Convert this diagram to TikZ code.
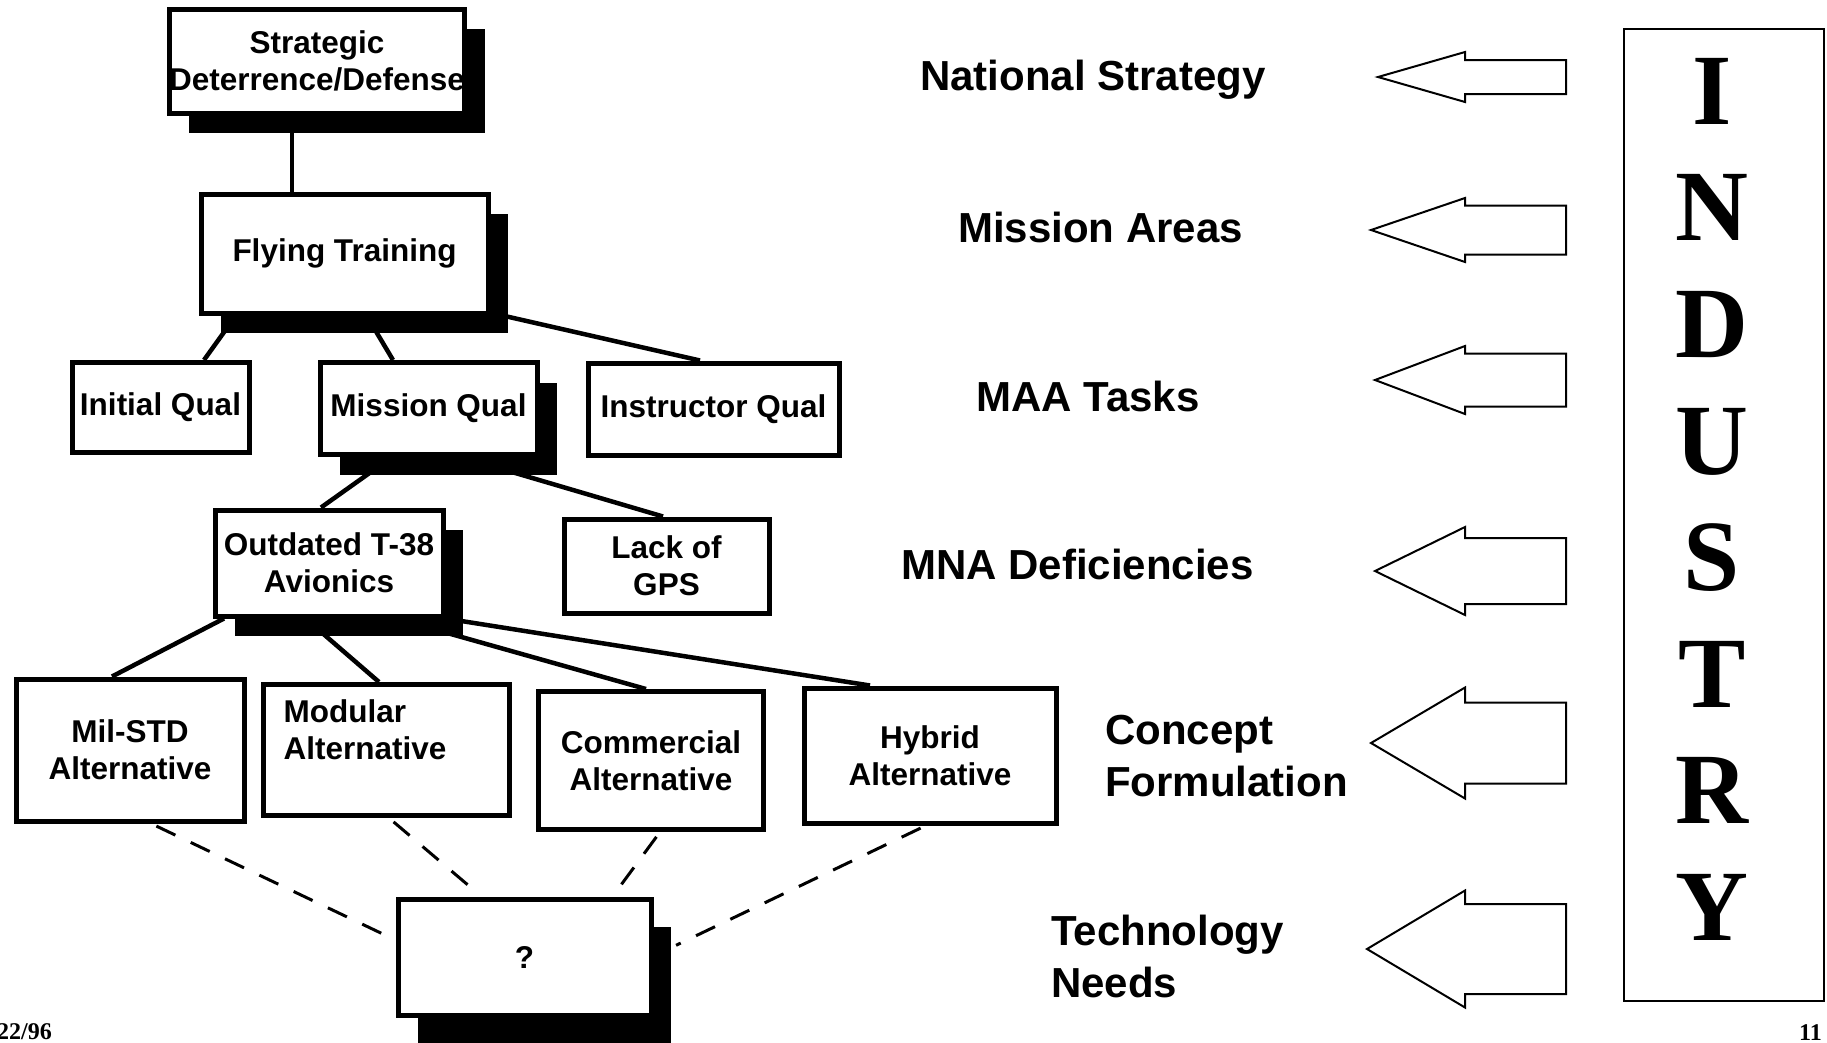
\documentclass[tikz,border=0pt]{standalone}
\usepackage{fontspec}
\setmainfont{Liberation Sans}
\newfontfamily\serifrm{Liberation Serif}
\usetikzlibrary{positioning,shadows}

\newcommand{\boxfont}{\fontsize{31.5}{37}\selectfont\bfseries}
% block arrow pointing left: tip x, mid y, head half-height, shaft half-height
\newcommand{\pusharrow}[4]{%
  \draw[barrow] (#1,#2) -- (1465,#2-#3) -- (1465,#2-#4) -- (1566,#2-#4)
    -- (1566,#2+#4) -- (1465,#2+#4) -- (1465,#2+#3) -- cycle;}

\begin{document}
\begin{tikzpicture}[x=1pt, y=-1pt,
  box/.style={draw, line width=5pt, fill=white, align=center, inner sep=0pt,
              font=\boxfont},
  dropped/.style={drop shadow={shadow xshift=20pt, shadow yshift=#1,
              fill=black, opacity=1}},
  dropped/.default=-20pt,
  conn/.style={line width=4.5pt},
  dlink/.style={line width=3pt, dash pattern=on 21pt off 17pt,
              shorten <=6pt, shorten >=4pt},
  lev/.style={font=\fontsize{42}{52}\selectfont\bfseries, inner sep=0pt,
              align=left},
  barrow/.style={draw, line width=2pt, line join=miter},
  foot/.style={font=\serifrm\bfseries\fontsize{24}{28}\selectfont,
              inner sep=0pt}]
\fill[white] (0,0) rectangle (1827,1042);
\useasboundingbox (0,0) rectangle (1827,1042);

% hierarchy
\node[box, dropped, minimum width=293pt, minimum height=104pt] (strat)
  at (317,61) {Strategic\\Deterrence/Defense};
\node[box, dropped, minimum width=287pt, minimum height=119pt] (fly)
  at (344.5,253.5) {Flying Training};
\node[box, minimum width=177pt, minimum height=90pt] (init)
  at (160.5,407.5) {Initial Qual};
\node[box, dropped, minimum width=217pt, minimum height=92pt] (mq)
  at (428.5,408.5) {Mission Qual};
\node[box, minimum width=251pt, minimum height=92pt] (iq)
  at (713.5,409) {Instructor Qual};
\node[box, dropped, minimum width=228pt, minimum height=106pt] (ot)
  at (329,563) {Outdated T-38\\Avionics};
\node[box, minimum width=205pt, minimum height=94pt] (gps)
  at (666.5,566) {Lack of\\GPS};
\node[box, minimum width=228pt, minimum height=142pt] (mil)
  at (130,750) {Mil-STD\\Alternative};
\node[box, minimum width=246pt, minimum height=131pt,
  label={[anchor=north west, align=left, inner sep=0pt, font=\boxfont,
          xshift=23pt, yshift=-17.5pt]north west:Modular\\Alternative}] (mod)
  at (386,750) {};
\node[box, minimum width=225pt, minimum height=138pt] (com)
  at (651,760.5) {Commercial\\Alternative};
\node[box, minimum width=252pt, minimum height=135pt] (hyb)
  at (930,755.5) {Hybrid\\Alternative};
\node[box, dropped=-28pt, minimum width=253pt, minimum height=116pt] (q)
  at (524.5,957) {?};

\draw[conn] ([xshift=-25pt]strat.south) -- ([xshift=-25pt]strat.south |- fly.north);
\draw[conn] ([xshift=-108.5pt]fly.south) -- ([xshift=43.5pt]init.north);
\draw[conn] ([xshift=22pt]fly.south) -- ([xshift=-35.5pt]mq.north);
\draw[conn] ([xshift=12pt]fly.south east) -- ([xshift=-13.5pt]iq.north);
\draw[conn] ([xshift=-36.5pt]mq.south) -- ([xshift=-8pt]ot.north);
\draw[conn] ([xshift=32.5pt]mq.south) -- ([xshift=-3.5pt]gps.north);
\draw[conn] ([xshift=-105pt]ot.south) -- ([xshift=-18pt]mil.north);
\draw[conn] ([xshift=-23.5pt]ot.south) -- ([xshift=-7pt]mod.north);
\draw[conn] ([yshift=-14pt]ot.south east) -- ([xshift=-5pt]com.north);
\draw[conn] (ot.south east) -- ([xshift=-60pt]hyb.north);

\draw[dlink] ([xshift=21pt]mil.south) -- ([yshift=17pt]q.west);
\draw[dlink] ([xshift=3pt]mod.south) -- ([xshift=-43pt]q.north);
\draw[dlink] ([xshift=9pt]com.south) -- ([xshift=88pt]q.north);
\draw[dlink] ([xshift=-4pt]hyb.south) -- ([xshift=19pt,yshift=10pt]q.east);

% levels
\node[lev, anchor=base west] (natl) at (920,90) {National Strategy};
\node[lev, anchor=base west] (areas) at (958,242) {Mission Areas};
\node[lev, anchor=base west] (tasks) at (976,411) {MAA Tasks};
\node[lev, anchor=base west] (defic) at (901,579) {MNA Deficiencies};
\node[lev, anchor=north west] (concept) at (1105,715) {Concept\\Formulation};
\node[lev, anchor=north west] (tech) at (1051,915) {Technology\\Needs};

\pusharrow{1378}{77}{25}{17}
\pusharrow{1371}{230}{32}{24.5}
\pusharrow{1375}{380}{34}{26.5}
\pusharrow{1375}{571}{44}{33}
\pusharrow{1371}{743}{55.5}{40.5}
\pusharrow{1367}{949}{58.5}{45}

% industry column
\node[draw, line width=2.5pt, minimum width=200pt, minimum height=972pt,
  inner sep=0pt] (ind) at (1724,515) {};
\node[font=\serifrm\bfseries\fontsize{101}{116.6}\selectfont, align=center,
  inner sep=0pt, anchor=north] (indtxt) at (1712,58) {I\\N\\D\\U\\S\\T\\R\\Y};

\node[foot, anchor=base west] (date) at (-3,1039) {22/96};
\node[foot, anchor=base east] (page) at (1822,1040) {11};
\end{tikzpicture}
\end{document}
